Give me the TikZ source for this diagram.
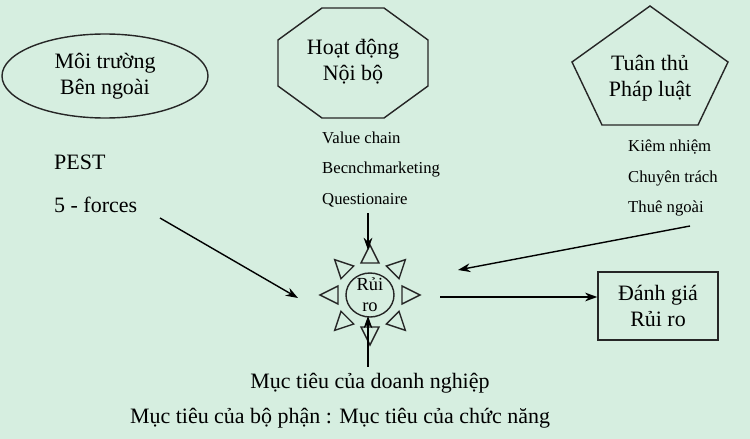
\documentclass[tikz,border=0pt]{standalone}
\usepackage{fontspec}
\setmainfont{Liberation Serif}
\usetikzlibrary{arrows.meta,calc}
\definecolor{bgmint}{RGB}{214,238,224}
\tikzset{
  shape line/.style={draw=black!85, thick},
  big text/.style={font=\fontsize{12.5}{15}\selectfont, align=center},
  small text/.style={font=\fontsize{9.5}{11}\selectfont, anchor=west},
  link/.style={thick, -{Stealth[length=7pt,width=5pt]}}
}
\begin{document}
\begin{tikzpicture}[x=0.02cm, y=-0.02cm]
\fill[bgmint] (0,0) rectangle (750,439);
\useasboundingbox (0,0) rectangle (750,439);

% three sources
\draw[shape line, fill=bgmint] (105,76) ellipse (103 and 42);
\node[big text] (env) at (105,76) {Môi trường\\Bên ngoài};
\draw[shape line] (322,8) -- (384,8) -- (428,40) -- (428,86) -- (384,118) -- (322,118) -- (278,86) -- (278,40) -- cycle;
\node[big text] (inner) at (353,62) {Hoạt động\\Nội bộ};
\draw[shape line] (650,6) -- (728,62) -- (698,125) -- (602,125) -- (572,62) -- cycle;
\node[big text] (law) at (650,78) {Tuân thủ\\Pháp luật};

% tool lists
\node[big text, anchor=west] (pest) at (48,162) {PEST};
\node[big text, anchor=west] (forces) at (48,205) {5 - forces};
\node[small text] (vc) at (316,138) {Value chain};
\node[small text] (bench) at (316,170) {Becnchmarketing};
\node[small text] (quest) at (316,200) {Questionaire};
\node[small text] (kiem) at (622,147) {Kiêm nhiệm};
\node[small text] (chuyen) at (622,178) {Chuyên trách};
\node[small text] (thue) at (622,208) {Thuê ngoài};

% risk sun
\draw[shape line] (370,295) ellipse (24 and 22);
\node[font=\fontsize{10.5}{12}\selectfont, align=center] (risk) at (370,295) {Rủi\\ro};
\foreach \a in {0,45,...,315}
  \draw[shape line] ($(370,295)+(\a:50)$) -- ($(370,295)+(\a:32)+(\a+90:9)$) -- ($(370,295)+(\a:32)+(\a-90:9)$) -- cycle;

\node[draw=black!85, thick, minimum width=120*0.02cm, minimum height=68*0.02cm, big text] (eval) at (658,306) {Đánh giá\\Rủi ro};

\node[big text] (goal) at (370,383) {Mục tiêu của doanh nghiệp};
\node[big text] (goals) at (340,418) {Mục tiêu của bộ phận : Mục tiêu của chức năng};

% connectors
\coordinate (sw) at (298,298);
\coordinate (top) at (368,250);
\coordinate (bot) at (368,316);
\coordinate (east) at (458,270);
\coordinate (out) at (440,297);
\draw[link] (160,218) -- (sw);
\draw[link] (quest.south -| top) -- (top);
\draw[link] (goal.north -| bot) -- (bot);
\draw[link] (690,226) -- (east);
\draw[link] (out) -- (eval.west |- out);
\end{tikzpicture}
\end{document}
